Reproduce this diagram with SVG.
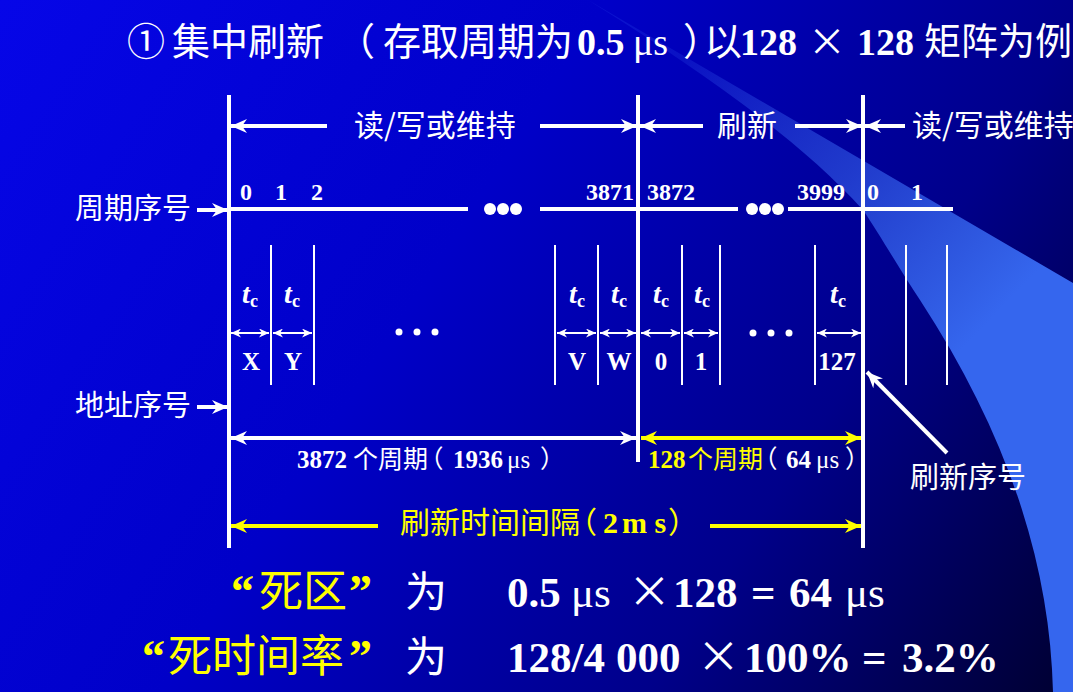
<svg xmlns="http://www.w3.org/2000/svg" width="1073" height="692" viewBox="0 0 1073 692">
<defs>
  <linearGradient id="bg" x1="0" y1="0" x2="1073" y2="692" gradientUnits="userSpaceOnUse">
    <stop offset="0" stop-color="#0606E8"/>
    <stop offset="0.4" stop-color="#0000C8"/>
    <stop offset="0.72" stop-color="#00008A"/>
    <stop offset="1" stop-color="#000030"/>
  </linearGradient>
  <linearGradient id="sw" x1="690" y1="50" x2="980" y2="330" gradientUnits="userSpaceOnUse">
    <stop offset="0" stop-color="#4477FF" stop-opacity="0.15"/>
    <stop offset="0.5" stop-color="#3A6AF5" stop-opacity="0.55"/>
    <stop offset="1" stop-color="#3566EE" stop-opacity="1"/>
  </linearGradient>
  <marker id="ahW" markerUnits="userSpaceOnUse" markerWidth="16" markerHeight="14" viewBox="0 0 16 14" refX="16" refY="7" orient="auto-start-reverse">
    <path d="M0,0 L16,7 L0,14 L5,7 z" fill="#FFFFFF"/>
  </marker>
  <marker id="ahY" markerUnits="userSpaceOnUse" markerWidth="16" markerHeight="14" viewBox="0 0 16 14" refX="16" refY="7" orient="auto-start-reverse">
    <path d="M0,0 L16,7 L0,14 L5,7 z" fill="#FFFF00"/>
  </marker>
  <marker id="ahS" markerUnits="userSpaceOnUse" markerWidth="10" markerHeight="9" viewBox="0 0 10 9" refX="10" refY="4.5" orient="auto-start-reverse">
    <path d="M0,0 L10,4.5 L0,9 L3,4.5 z" fill="#FFFFFF"/>
  </marker>
  <style>
    .cjk { font-family: "Noto Sans CJK SC", "Noto Sans", sans-serif; }
    .h { font-feature-settings: "halt"; }
    .num { font-family: "Liberation Serif", "Times New Roman", serif; font-weight: bold; }
    .mu { font-family: "Liberation Serif", "Times New Roman", serif; font-weight: normal; }
    .w { fill: #FFFFFF; }
    .y { fill: #FFFF00; }
    .main { stroke: #FFFFFF; stroke-width: 4; fill: none; }
    .thin { stroke: #FFFFFF; stroke-width: 2; fill: none; }
    .arW { stroke: #FFFFFF; stroke-width: 4; fill: none; }
    .arY { stroke: #FFFF00; stroke-width: 4; fill: none; }
    .dbl { stroke: #FFFFFF; stroke-width: 2; fill: none; marker-start: url(#ahS); marker-end: url(#ahS); }
  </style>
</defs>

<rect x="0" y="0" width="1073" height="692" fill="url(#bg)"/>
<path id="swoosh" d="M588,0 L1073,283 L1073,692 L1053,692 C1050,560 1005,430 920,300 C900,270 880,235 863,210 C800,140 700,70 588,0 Z" fill="url(#sw)"/>

<g id="title" font-size="38">
  <text y="55" class="w">
    <tspan class="cjk" x="127">①</tspan>
    <tspan class="cjk" x="172">集中刷新</tspan>
    <tspan class="cjk h" x="356">（</tspan>
    <tspan class="cjk" x="383">存取周期为</tspan>
    <tspan class="num" x="577">0.5</tspan>
    <tspan class="mu" x="633">μs</tspan>
    <tspan class="cjk h" x="683">）</tspan>
    <tspan class="cjk" x="704">以</tspan>
    <tspan class="num" x="740">128</tspan>
    <tspan class="cjk" x="808">×</tspan>
    <tspan class="num" x="857">128</tspan>
    <tspan class="cjk" x="924" font-size="37">矩阵为例</tspan>
  </text>
</g>

<g id="frame">
  <path class="main" d="M229,95 V548"/>
  <path class="main" d="M638,95 V462"/>
  <path class="main" d="M863,95 V548"/>
</g>

<g id="phase-labels" font-size="30">
  <text class="cjk w" x="354" y="136">读/写或维持</text>
  <text class="cjk w" x="717" y="136">刷新</text>
  <text class="cjk w" x="912" y="136">读/写或维持</text>
</g>

<g id="side-labels" font-size="29">
  <text class="cjk w" x="75" y="219">周期序号</text>
  <text class="cjk w" x="75" y="416">地址序号</text>
  <text class="cjk w" x="910" y="488">刷新序号</text>
</g>

<g id="timeline">
  <path class="main" d="M229,209 H468"/>
  <path class="main" d="M540,209 H738"/>
  <path class="main" d="M788,209 H953"/>
  <g class="w">
    <circle cx="490" cy="209" r="6"/><circle cx="503" cy="209" r="6"/><circle cx="516" cy="209" r="6"/>
    <circle cx="752" cy="209" r="6"/><circle cx="765" cy="209" r="6"/><circle cx="778" cy="209" r="6"/>
  </g>
  <g class="num w" font-size="24">
    <text x="240" y="200">0</text>
    <text x="275" y="200">1</text>
    <text x="311" y="200">2</text>
    <text x="586" y="200">3871</text>
    <text x="647" y="200">3872</text>
    <text x="797" y="200">3999</text>
    <text x="867" y="200">0</text>
    <text x="911" y="200">1</text>
  </g>
</g>

<g id="cells">
  <path class="thin" d="M271,245 V385 M314,245 V385 M555,245 V385 M598,245 V385 M682,245 V385 M720,245 V385 M815,245 V385 M906,245 V385 M947,245 V385"/>
  <g class="num w" font-size="28" text-anchor="middle">
    <text x="250" y="303"><tspan font-style="italic">t</tspan><tspan font-size="18" dy="4">c</tspan></text>
    <text x="292" y="303"><tspan font-style="italic">t</tspan><tspan font-size="18" dy="4">c</tspan></text>
    <text x="577" y="303"><tspan font-style="italic">t</tspan><tspan font-size="18" dy="4">c</tspan></text>
    <text x="619" y="303"><tspan font-style="italic">t</tspan><tspan font-size="18" dy="4">c</tspan></text>
    <text x="661" y="303"><tspan font-style="italic">t</tspan><tspan font-size="18" dy="4">c</tspan></text>
    <text x="702" y="303"><tspan font-style="italic">t</tspan><tspan font-size="18" dy="4">c</tspan></text>
    <text x="838" y="303"><tspan font-style="italic">t</tspan><tspan font-size="18" dy="4">c</tspan></text>
  </g>
  <g class="num w" font-size="25" text-anchor="middle">
    <text x="251" y="370">X</text>
    <text x="293" y="370">Y</text>
    <text x="577" y="370">V</text>
    <text x="619" y="370">W</text>
    <text x="661" y="370">0</text>
    <text x="701" y="370">1</text>
    <text x="837" y="370">127</text>
  </g>
  <g class="w">
    <circle cx="399" cy="332" r="3.5"/><circle cx="417" cy="332" r="3.5"/><circle cx="435" cy="332" r="3.5"/>
    <circle cx="753" cy="333" r="3.5"/><circle cx="771" cy="333" r="3.5"/><circle cx="789" cy="333" r="3.5"/>
  </g>
</g>

<g id="connectors">
  <path class="arW" d="M327,126 H231" marker-end="url(#ahW)"/>
  <path class="arW" d="M540,126 H637" marker-end="url(#ahW)"/>
  <path class="arW" d="M703,126 H640" marker-end="url(#ahW)"/>
  <path class="arW" d="M795,126 H862" marker-end="url(#ahW)"/>
  <path class="arW" d="M905,126 H865" marker-end="url(#ahW)"/>
  <path class="arW" d="M197,210 H228" marker-end="url(#ahW)"/>
  <path class="arW" d="M197,407 H228" marker-end="url(#ahW)"/>
  <path class="dbl" d="M231,333 H269"/>
  <path class="dbl" d="M273,333 H312"/>
  <path class="dbl" d="M557,333 H596"/>
  <path class="dbl" d="M600,333 H636"/>
  <path class="dbl" d="M641,333 H680"/>
  <path class="dbl" d="M684,333 H718"/>
  <path class="dbl" d="M817,333 H861"/>
  <path class="arW" d="M231,438 H636" stroke-width="3.5" marker-start="url(#ahW)" marker-end="url(#ahW)"/>
  <path class="arY" d="M641,438 H861" stroke-width="3.5" marker-start="url(#ahY)" marker-end="url(#ahY)"/>
  <path class="arY" d="M378,526 H231" marker-end="url(#ahY)"/>
  <path class="arY" d="M710,526 H861" marker-end="url(#ahY)"/>
  <path class="arW" d="M947,453 L867,372" marker-end="url(#ahW)"/>
</g>

<g id="dim-labels">
  <text y="468" font-size="25">
    <tspan class="num w" x="297">3872</tspan>
    <tspan class="cjk w" x="353">个周期</tspan>
    <tspan class="cjk w h" x="431">（</tspan>
    <tspan class="num w" x="453">1936</tspan>
    <tspan class="mu w" x="507">μs</tspan>
    <tspan class="cjk w" x="540">）</tspan>
  </text>
  <text y="468" font-size="25">
    <tspan class="num y" x="648">128</tspan>
    <tspan class="cjk y" x="688">个周期</tspan>
    <tspan class="cjk w h" x="765">（</tspan>
    <tspan class="num w" x="786">64</tspan>
    <tspan class="mu w" x="816">μs</tspan>
    <tspan class="cjk w" x="845">）</tspan>
  </text>
  <text y="533" font-size="30">
    <tspan class="cjk y" x="400">刷新时间间隔</tspan>
    <tspan class="cjk y h" x="582">（</tspan>
    <tspan class="num y" x="603">2</tspan>
    <tspan class="num y" x="622">m s</tspan>
    <tspan class="cjk y" x="668">）</tspan>
  </text>
</g>

<g id="formula" font-size="43">
  <text class="num y" x="254" y="607" text-anchor="end" font-size="46">“</text>
  <text class="cjk y" x="259" y="607" font-size="44">死区</text>
  <text class="num y" x="349" y="607" font-size="46">”</text>
  <text class="cjk w" x="405" y="607" font-size="42">为</text>
  <text y="607">
    <tspan class="num w" x="507">0.5</tspan>
    <tspan class="mu w" x="571">μs</tspan>
    <tspan class="cjk w" x="628">×</tspan>
    <tspan class="num w" x="673">128</tspan>
    <tspan class="num w" x="751">=</tspan>
    <tspan class="num w" x="789">64</tspan>
    <tspan class="mu w" x="845">μs</tspan>
  </text>
  <text class="num y" x="165" y="672" text-anchor="end" font-size="46">“</text>
  <text class="cjk y" x="168" y="672" font-size="44">死时间率</text>
  <text class="num y" x="349" y="672" font-size="46">”</text>
  <text class="cjk w" x="405" y="672" font-size="42">为</text>
  <text y="672">
    <tspan class="num w" x="507">128/4</tspan>
    <tspan class="num w" x="616">000</tspan>
    <tspan class="cjk w" x="697">×</tspan>
    <tspan class="num w" x="744">100%</tspan>
    <tspan class="num w" x="862">=</tspan>
    <tspan class="num w" x="902">3.2%</tspan>
  </text>
</g>
</svg>
